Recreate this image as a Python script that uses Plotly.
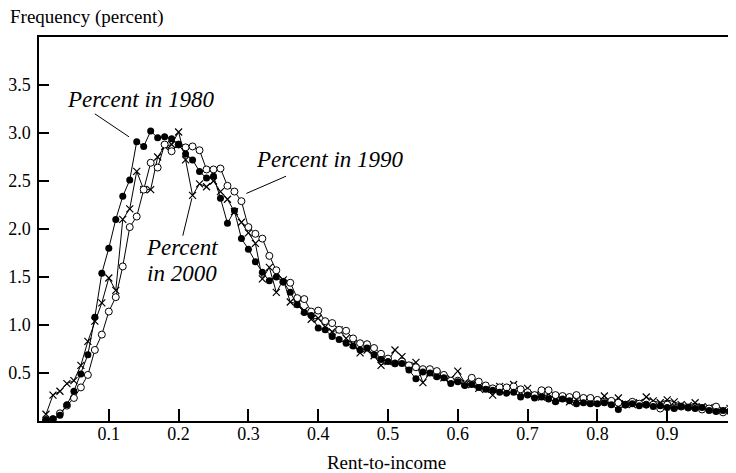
import plotly.graph_objects as go

# rent-to-income bins (0.01 .. 0.99)
rent_ratio = [round(0.01 * i, 2) for i in range(1, 100)]

pct_1980 = [
    0.01, 0.02, 0.06, 0.17, 0.31, 0.49, 0.69, 1.08, 1.54, 1.80,
    2.10, 2.34, 2.51, 2.91, 2.86, 3.02, 2.95, 2.96, 2.94, 2.88,
    2.78, 2.72, 2.60, 2.53, 2.55, 2.32, 2.06, 2.19, 1.90, 1.79,
    1.66, 1.55, 1.46, 1.50, 1.45, 1.34, 1.21, 1.13, 1.10, 0.97,
    0.95, 0.88, 0.85, 0.81, 0.78, 0.74, 0.76, 0.69, 0.64, 0.62,
    0.60, 0.60, 0.53, 0.44, 0.51, 0.50, 0.46, 0.45, 0.39, 0.41,
    0.37, 0.38, 0.35, 0.33, 0.32, 0.30, 0.29, 0.30, 0.25, 0.27,
    0.24, 0.25, 0.23, 0.20, 0.23, 0.21, 0.18, 0.19, 0.18, 0.18,
    0.19, 0.17, 0.12, 0.17, 0.18, 0.16, 0.17, 0.15, 0.16, 0.14,
    0.13, 0.15, 0.14, 0.13, 0.14, 0.11, 0.10, 0.11, 0.10,
]

pct_1990 = [
    0.01, 0.02, 0.08, 0.16, 0.24, 0.35, 0.48, 0.74, 0.90, 1.14,
    1.29, 1.61, 2.02, 2.13, 2.41, 2.69, 2.64, 2.88, 2.81, 2.88,
    2.85, 2.86, 2.82, 2.62, 2.62, 2.63, 2.45, 2.39, 2.29, 2.02,
    1.95, 1.90, 1.72, 1.57, 1.45, 1.44, 1.28, 1.27, 1.14, 1.15,
    1.04, 1.02, 0.95, 0.94, 0.86, 0.81, 0.80, 0.76, 0.70, 0.65,
    0.60, 0.62, 0.58, 0.56, 0.54, 0.54, 0.52, 0.48, 0.42, 0.42,
    0.38, 0.45, 0.41, 0.37, 0.34, 0.35, 0.35, 0.36, 0.33, 0.30,
    0.27, 0.32, 0.32, 0.27, 0.26, 0.25, 0.27, 0.24, 0.24, 0.22,
    0.20, 0.21, 0.19, 0.17, 0.20, 0.18, 0.17, 0.17, 0.13, 0.17,
    0.14, 0.15, 0.14, 0.14, 0.12, 0.13, 0.15, 0.09, 0.10,
]

pct_2000 = [
    0.07, 0.27, 0.31, 0.39, 0.42, 0.58, 0.83, 1.04, 1.23, 1.49,
    1.36, 2.10, 2.21, 2.60, 2.41, 2.41, 2.75, 2.86, 2.88, 3.01,
    2.72, 2.35, 2.47, 2.44, 2.50, 2.39, 2.31, 2.18, 2.07, 1.96,
    1.85, 1.48, 1.60, 1.34, 1.47, 1.24, 1.22, 1.15, 1.06, 1.07,
    0.98, 0.93, 0.95, 0.86, 0.80, 0.71, 0.74, 0.68, 0.58, 0.62,
    0.74, 0.67, 0.58, 0.61, 0.40, 0.50, 0.48, 0.45, 0.44, 0.52,
    0.40, 0.38, 0.34, 0.33, 0.27, 0.36, 0.33, 0.38, 0.30, 0.34,
    0.27, 0.25, 0.28, 0.22, 0.24, 0.20, 0.22, 0.21, 0.20, 0.20,
    0.26, 0.19, 0.24, 0.18, 0.17, 0.19, 0.25, 0.21, 0.19, 0.22,
    0.20, 0.17, 0.16, 0.19, 0.15, 0.14, 0.12, 0.11, 0.13,
]

x_ticks = [0.1, 0.2, 0.3, 0.4, 0.5, 0.6, 0.7, 0.8, 0.9]
y_ticks = [0.5, 1.0, 1.5, 2.0, 2.5, 3.0, 3.5]

FONT = "Liberation Serif"

fig = go.Figure()

fig.add_trace(go.Scatter(
    x=rent_ratio, y=pct_2000, mode="lines+markers", name="2000",
    line=dict(color="black", width=1),
    marker=dict(symbol="x-thin", size=7, line=dict(color="black", width=1.2)),
))
fig.add_trace(go.Scatter(
    x=rent_ratio, y=pct_1990, mode="lines+markers", name="1990",
    line=dict(color="black", width=1),
    marker=dict(symbol="circle", size=7, color="white", line=dict(color="black", width=1)),
))
fig.add_trace(go.Scatter(
    x=rent_ratio, y=pct_1980, mode="lines+markers", name="1980",
    line=dict(color="black", width=1),
    marker=dict(symbol="circle", size=7, color="black"),
))

# labels with leader lines
lbl_font = dict(family=FONT, size=23, color="black")
fig.add_annotation(x=0.146, y=3.35, text="<i>Percent in 1980</i>", showarrow=False,
                   font=lbl_font, xanchor="center", yanchor="middle")
fig.add_shape(type="line", x0=0.08, y0=3.2, x1=0.129, y1=2.96,
              line=dict(color="black", width=1))
fig.add_annotation(x=0.417, y=2.72, text="<i>Percent in 1990</i>", showarrow=False,
                   font=lbl_font, xanchor="center", yanchor="middle")
fig.add_shape(type="line", x0=0.354, y0=2.55, x1=0.297, y1=2.37,
              line=dict(color="black", width=1))
fig.add_annotation(x=0.151, y=1.81, text="<i>Percent</i>", showarrow=False,
                   font=lbl_font, xanchor="left", yanchor="middle")
fig.add_annotation(x=0.152, y=1.54, text="<i>in 2000</i>", showarrow=False,
                   font=lbl_font, xanchor="left", yanchor="middle")
fig.add_shape(type="line", x0=0.219, y0=2.32, x1=0.206, y1=1.93,
              line=dict(color="black", width=1))

fig.add_annotation(x=0, y=1, xref="paper", yref="paper", xshift=-31, yshift=20,
                   text="Frequency (percent)", showarrow=False, xanchor="left",
                   yanchor="middle", font=dict(family=FONT, size=19, color="black"))

axis_common = dict(
    showgrid=False, zeroline=False, showline=True, linecolor="black", linewidth=1.5,
    mirror=True, ticks="inside", tickcolor="black", tickwidth=1.5,
    tickfont=dict(family=FONT, size=18, color="black"),
)

fig.update_xaxes(
    range=[0, 0.9957], tickvals=x_ticks, ticktext=[f"{v:.1f}" for v in x_ticks],
    ticklen=12, ticklabelstandoff=-4,
    title=dict(text="Rent-to-income", font=dict(family=FONT, size=19, color="black"),
               standoff=12),
    **axis_common,
)
fig.update_yaxes(
    range=[0, 4.0], tickvals=y_ticks, ticktext=[f"{v:.1f}" for v in y_ticks],
    ticklen=10, ticklabelstandoff=3,
    **axis_common,
)

# page body adds an 8px offset, so the figure is sized and margined to compensate
fig.update_layout(
    width=728, height=465,
    margin=dict(l=31, r=0, t=29, b=52),
    paper_bgcolor="white", plot_bgcolor="white",
    showlegend=False,
    font=dict(family=FONT, color="black"),
)

fig.write_html("out.html")
